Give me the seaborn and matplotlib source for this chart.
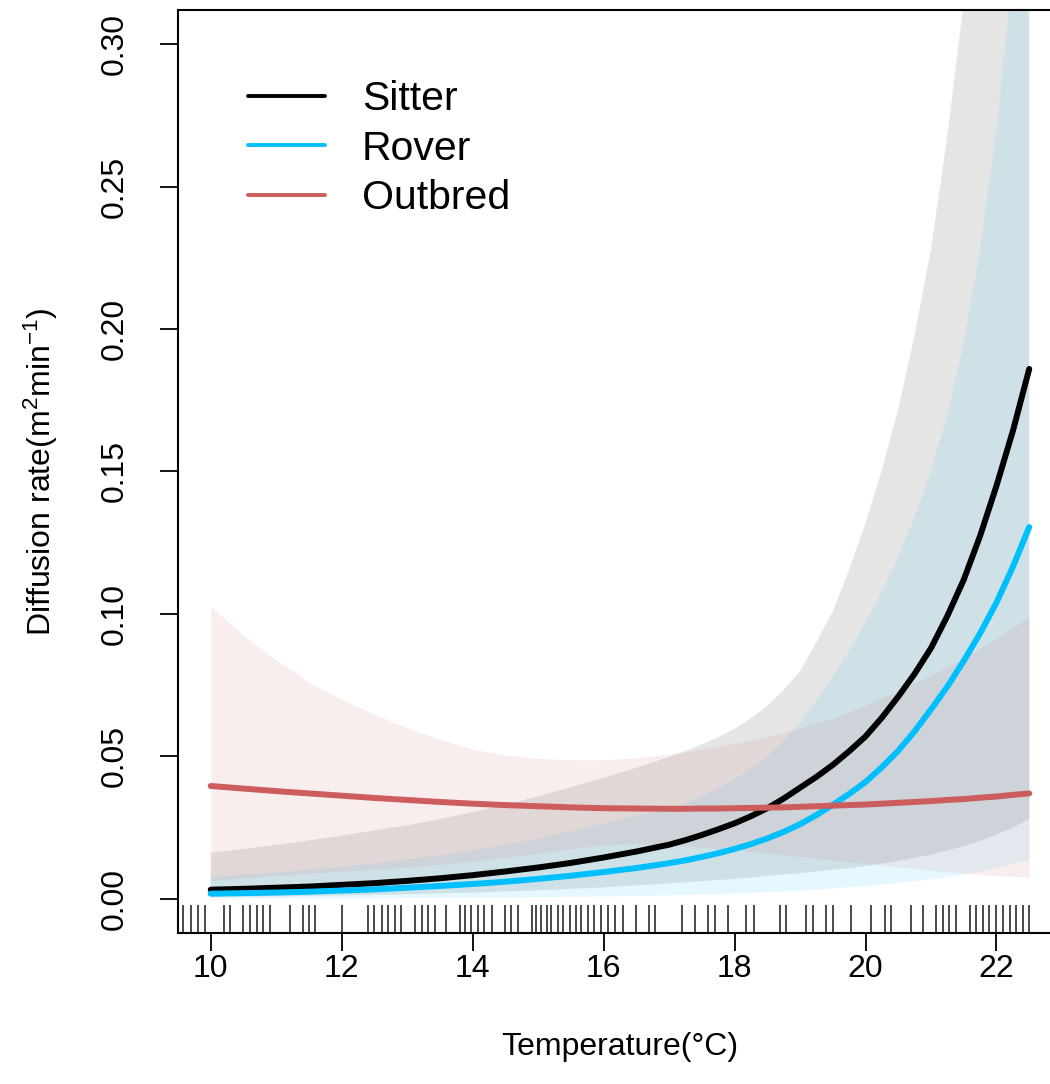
import numpy as np
import pandas as pd
import matplotlib
matplotlib.use("Agg")
import matplotlib.pyplot as plt
import seaborn as sns

# temperature grid (deg C) at which the fitted curves / intervals were read
temps = [10.0, 10.5, 11.0, 11.5, 12.0, 12.5, 13.0, 13.5, 14.0, 14.5, 15.0, 15.5, 16.0,
         16.5, 17.0, 17.25, 17.5, 17.75, 18.0, 18.25, 18.5, 18.75, 19.0, 19.25, 19.5, 19.75,
         20.0, 20.25, 20.5, 20.75, 21.0, 21.25, 21.5, 21.75, 22.0, 22.25, 22.5]

# Sitter
sitter_fit = [0.0032, 0.0035, 0.0039, 0.0043, 0.0049, 0.0055, 0.0063, 0.0072, 0.0083, 0.0096,
              0.0110, 0.0126, 0.0145, 0.0166, 0.0190, 0.0206, 0.0224, 0.0244, 0.0265, 0.0290,
              0.0318, 0.0352, 0.0390, 0.0428, 0.0470, 0.0518, 0.0570, 0.0636, 0.0710, 0.0790,
              0.0880, 0.0993, 0.1120, 0.1274, 0.1450, 0.1642, 0.1860]
sitter_lo = [0.0006, 0.0007, 0.0008, 0.0010, 0.0012, 0.0014, 0.0016, 0.0019, 0.0022, 0.0026,
             0.0030, 0.0035, 0.0040, 0.0047, 0.0054, 0.0058, 0.0062, 0.0066, 0.0070, 0.0075,
             0.0080, 0.0085, 0.0090, 0.0096, 0.0102, 0.0108, 0.0115, 0.0124, 0.0133, 0.0144,
             0.0155, 0.0170, 0.0185, 0.0204, 0.0225, 0.0251, 0.0280]
sitter_hi = [0.0162, 0.0175, 0.0190, 0.0205, 0.0222, 0.0240, 0.0258, 0.0280, 0.0305, 0.0330,
             0.0360, 0.0392, 0.0425, 0.0460, 0.0498, 0.0519, 0.0542, 0.0568, 0.0597, 0.0634,
             0.0677, 0.0733, 0.0800, 0.0900, 0.1010, 0.1155, 0.1320, 0.1505, 0.1720, 0.1980,
             0.2280, 0.2680, 0.3150, 0.3760, 0.4500, 0.5400, 0.6500]

# Rover
rover_fit = [0.0018, 0.0020, 0.0022, 0.0025, 0.0029, 0.0033, 0.0039, 0.0045, 0.0052, 0.0060,
             0.0070, 0.0081, 0.0094, 0.0108, 0.0125, 0.0135, 0.0147, 0.0160, 0.0175, 0.0192,
             0.0212, 0.0235, 0.0262, 0.0294, 0.0330, 0.0368, 0.0410, 0.0462, 0.0520, 0.0588,
             0.0665, 0.0745, 0.0835, 0.0932, 0.1040, 0.1165, 0.1305]
rover_lo = [0.0001, 0.0001, 0.0001, 0.0002, 0.0002, 0.0002, 0.0003, 0.0003, 0.0004, 0.0005,
            0.0006, 0.0007, 0.0008, 0.0010, 0.0012, 0.00135, 0.0015, 0.00165, 0.0018, 0.0020,
            0.0023, 0.0025, 0.0028, 0.0032, 0.0036, 0.0040, 0.0045, 0.0050, 0.0056, 0.0062,
            0.0068, 0.0076, 0.0085, 0.0096, 0.0108, 0.0122, 0.0137]
rover_hi = [0.0077, 0.0085, 0.0093, 0.0102, 0.0113, 0.0125, 0.0138, 0.0153, 0.0170, 0.0190,
            0.0212, 0.0237, 0.0265, 0.0290, 0.0315, 0.0336, 0.0360, 0.0388, 0.0420, 0.0457,
            0.0500, 0.0555, 0.0620, 0.0695, 0.0780, 0.0870, 0.0970, 0.1080, 0.1200, 0.1340,
            0.1500, 0.1700, 0.1950, 0.2280, 0.2700, 0.3250, 0.4000]

# Outbred
outbred_fit = [0.0396, 0.0387, 0.0378, 0.0370, 0.0362, 0.0354, 0.0347, 0.0340, 0.0334, 0.0329,
               0.0325, 0.0321, 0.0318, 0.0317, 0.0316, 0.0316, 0.0317, 0.0317, 0.0318, 0.0319,
               0.0320, 0.0321, 0.0323, 0.0325, 0.0327, 0.0329, 0.0331, 0.0334, 0.0337, 0.0340,
               0.0343, 0.0347, 0.0350, 0.0355, 0.0359, 0.0365, 0.0370]
outbred_lo = [0.0065, 0.0073, 0.0081, 0.0089, 0.0097, 0.0104, 0.0110, 0.0120, 0.0132, 0.0145,
              0.0160, 0.0175, 0.0190, 0.0192, 0.0190, 0.0186, 0.0182, 0.0177, 0.0172, 0.0166,
              0.0160, 0.0154, 0.0148, 0.0142, 0.0136, 0.0130, 0.0124, 0.0118, 0.0112, 0.0106,
              0.0100, 0.0095, 0.0090, 0.0086, 0.0081, 0.0078, 0.0074]
outbred_hi = [0.1027, 0.0925, 0.0840, 0.0760, 0.0700, 0.0648, 0.0600, 0.0560, 0.0525, 0.0505,
              0.0493, 0.0488, 0.0488, 0.0495, 0.0508, 0.0516, 0.0525, 0.0535, 0.0545, 0.0557,
              0.0570, 0.0585, 0.0600, 0.0617, 0.0635, 0.0657, 0.0680, 0.0705, 0.0730, 0.0757,
              0.0785, 0.0815, 0.0845, 0.0880, 0.0915, 0.0952, 0.0990]

# observed temperatures (rug along the x axis)
rug_temps = [9.58, 9.70, 9.81, 9.92, 10.20, 10.29, 10.49, 10.60, 10.70, 10.80, 10.90, 11.21,
             11.41, 11.50, 11.60, 12.00, 12.40, 12.50, 12.61, 12.71, 12.81, 12.91, 13.12, 13.22,
             13.32, 13.42, 13.60, 13.80, 13.88, 13.98, 14.08, 14.18, 14.29, 14.49, 14.59, 14.69,
             14.90, 14.97, 15.05, 15.13, 15.20, 15.30, 15.38, 15.48, 15.58, 15.66, 15.76, 15.86,
             15.96, 16.07, 16.17, 16.29, 16.49, 16.69, 16.79, 17.20, 17.39, 17.59, 17.70, 17.90,
             18.18, 18.29, 18.70, 18.79, 19.09, 19.20, 19.40, 19.50, 19.78, 20.09, 20.29, 20.39,
             20.70, 20.88, 21.08, 21.18, 21.28, 21.38, 21.59, 21.69, 21.79, 21.89, 22.00, 22.10,
             22.20, 22.30, 22.40, 22.50]

groups = ["Sitter", "Rover", "Outbred"]
colors = {"Sitter": "black", "Rover": "#00BFFF", "Outbred": "#CD5C5C"}
x_ticks = [10, 12, 14, 16, 18, 20, 22]
y_ticks = [0.00, 0.05, 0.10, 0.15, 0.20, 0.25, 0.30]
y_tick_labels = ["0.00", "0.05", "0.10", "0.15", "0.20", "0.25", "0.30"]

sns.set_style("white")
plt.rcParams["font.family"] = ["Liberation Sans", "DejaVu Sans"]
plt.rcParams["mathtext.fontset"] = "custom"
plt.rcParams["mathtext.rm"] = "Liberation Sans"
plt.rcParams["mathtext.it"] = "Liberation Sans:italic"
plt.rcParams["mathtext.default"] = "regular"
for key in ["text.color", "axes.labelcolor", "xtick.color", "ytick.color"]:
    plt.rcParams[key] = "black"

fig = plt.figure(figsize=(10.5, 10.84), dpi=100)
ax = fig.add_axes([0.1695, 0.1393, 0.8419, 0.8515])

# confidence bands
bands = {"Sitter": (sitter_lo, sitter_hi),
         "Rover": (rover_lo, rover_hi),
         "Outbred": (outbred_lo, outbred_hi)}
for g in groups:
    lo, hi = bands[g]
    ax.fill_between(temps, lo, hi, color=colors[g], alpha=0.1, linewidth=0)

# fitted curves
df = pd.DataFrame({
    "Temperature": temps * 3,
    "Rate": sitter_fit + rover_fit + outbred_fit,
    "Group": [g for g in groups for _ in temps],
})
sns.lineplot(data=df, x="Temperature", y="Rate", hue="Group", hue_order=groups,
             palette=colors, linewidth=4.3, estimator=None, sort=False,
             solid_capstyle="round", ax=ax)

sns.rugplot(x=rug_temps, height=0.03, color="#4a4a4a", linewidth=1.4,
            expand_margins=False, ax=ax)

ax.set_xlim(9.5, 23.0)
ax.set_ylim(-0.012, 0.312)
ax.set_xticks(x_ticks)
ax.set_yticks(y_ticks, labels=y_tick_labels, rotation=90, va="center")
ax.tick_params(axis="both", direction="out", length=13, width=1.3, labelsize=23,
               left=True, bottom=True)
ax.tick_params(axis="x", pad=2)
ax.tick_params(axis="y", pad=22)
for s in ax.spines.values():
    s.set_color("black")
    s.set_linewidth(1.5)

ax.set_xlabel("Temperature(°C)", fontsize=23)
ax.set_ylabel(r"Diffusion rate(m$^2$min$^{-1}$)", fontsize=23)
ax.xaxis.set_label_coords(0.5, -0.107)
ax.yaxis.set_label_coords(-0.134, 0.5)

handles, labels = ax.get_legend_handles_labels()
leg = ax.legend(handles, labels, loc="upper left", bbox_to_anchor=(0.079, 0.924),
                frameon=False, fontsize=29.5, handlelength=1.88, handletextpad=0.9,
                labelspacing=0.28, borderpad=0, borderaxespad=0)
for line in leg.get_lines():
    line.set_linewidth(2.8)

fig.savefig("out.png", dpi=100)
